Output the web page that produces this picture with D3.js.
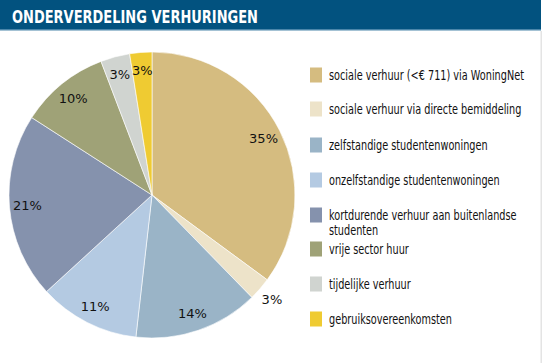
<!DOCTYPE html>
<meta charset="utf-8">
<style>
body { margin: 0; background: #fff; }
.legend text { font-family: "DejaVu Sans Condensed", sans-serif; font-size: 13.5px; fill: #111; }
.pct { font-family: "DejaVu Sans", sans-serif; font-size: 13px; fill: #111; }
</style>
<body>
<script src="https://cdn.jsdelivr.net/npm/d3@7"></script>
<script>

var categories = ["sociale verhuur (<€ 711) via WoningNet", "sociale verhuur via directe bemiddeling",
  "zelfstandige studentenwoningen", "onzelfstandige studentenwoningen",
  "kortdurende verhuur aan buitenlandse|studenten", "vrije sector huur",
  "tijdelijke verhuur", "gebruiksovereenkomsten"];
var values = [35.1, 2.6, 14.1, 11.4, 20.9, 10.1, 3.3, 2.5];
var labels = ["35%", "3%", "14%", "11%", "21%", "10%", "3%", "3%"];
var colors = ["#d5bc80", "#ede3c9", "#9ab4c7", "#b4cae2", "#8592ad", "#9fa277", "#d0d4d0", "#efcb32"];

var width = 542, height = 363;
var svg = d3.select("body").append("svg")
  .attr("width", width)
  .attr("height", height);

// title bar
svg.append("rect").attr("x", 0).attr("y", 0).attr("width", 541).attr("height", 30).attr("fill", "#02527f");
svg.append("rect").attr("x", 0).attr("y", 29).attr("width", 541).attr("height", 1.5).attr("fill", "#4a86aa");
svg.append("rect").attr("x", 540.5).attr("y", 31).attr("width", 1.5).attr("height", 332).attr("fill", "#e4e4e4");
svg.append("text")
  .text("ONDERVERDELING VERHURINGEN")
  .attr("x", 12).attr("y", 23)
  .attr("fill", "#fff")
  .attr("font-family", "'DejaVu Sans Condensed', sans-serif")
  .attr("font-weight", "bold")
  .attr("font-size", "17px")
  .attr("textLength", 246)
  .attr("lengthAdjust", "spacingAndGlyphs");

var cx = 152, cy = 195, r = 143;
var pie = d3.pie().sort(null).value(function(d) { return d; });
var arcs = pie(values);
var arc = d3.arc().innerRadius(0).outerRadius(r);

var g = svg.append("g").attr("transform", "translate(" + cx + "," + cy + ")");
g.selectAll("path")
  .data(arcs)
  .enter().append("path")
  .attr("d", arc)
  .attr("fill", function(d, i) { return colors[i]; })
  .attr("stroke", "#fff")
  .attr("stroke-width", 0.6);

g.selectAll(".pct")
  .data(arcs)
  .enter().append("text")
  .attr("class", "pct")
  .attr("text-anchor", "middle")
  .attr("dy", "0.35em")
  .attr("transform", function(d, i) {
    var a = (d.startAngle + d.endAngle) / 2;
    var lr = i == 1 ? 159 : 125;
    return "translate(" + (Math.sin(a) * lr) + "," + (-Math.cos(a) * lr) + ")";
  })
  .text(function(d, i) { return labels[i]; });

// legend
var rowY = [75, 109, 145, 180, 215, 249, 284, 319];
var legend = svg.selectAll(".legend")
  .data(categories)
  .enter().append("g")
  .attr("class", "legend")
  .attr("transform", function(d, i) { return "translate(310," + rowY[i] + ")"; });
legend.append("rect")
  .attr("x", 0).attr("y", -7.5)
  .attr("width", 12).attr("height", 15)
  .attr("fill", function(d, i) { return colors[i]; });
var texts = legend.append("g").attr("transform", "translate(19,0)").append("text").attr("y", 5);
texts.each(function(d) {
  var t = d3.select(this);
  d.split("|").forEach(function(p, j) {
    t.append("tspan").attr("x", 0).attr("dy", j == 0 ? 0 : 15).text(p);
  });
});
// squeeze to a condensed look, first label is about 195px wide in the original
var k = 195 / texts.node().getComputedTextLength();
texts.attr("transform", "scale(" + k + ",1)");
</script>
</body>
